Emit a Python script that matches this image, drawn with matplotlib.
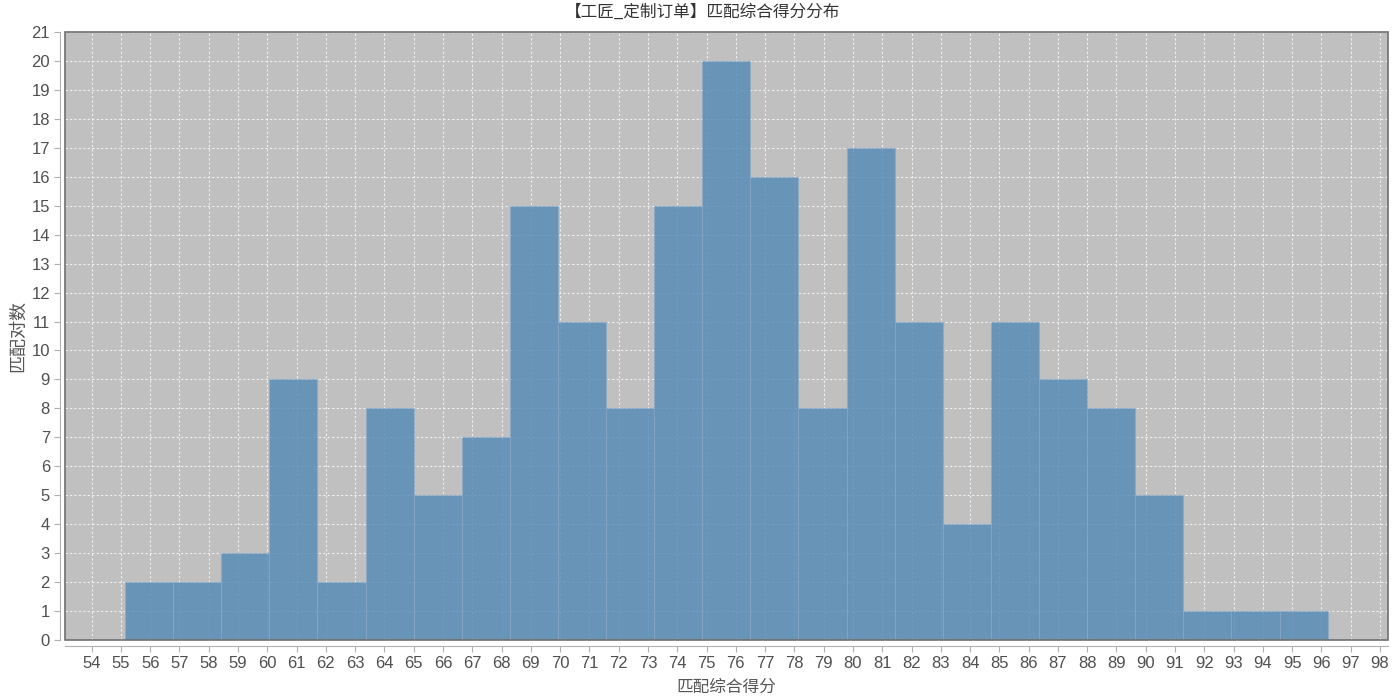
import numpy as np
import matplotlib
matplotlib.use('Agg')
import matplotlib.pyplot as plt
import matplotlib.patches as mpatches

plt.rcParams['font.family'] = ['Liberation Sans', 'Noto Sans CJK SC', 'DejaVu Sans']

# histogram data
score_min = 55.14
score_max = 96.21
counts = [2, 2, 3, 9, 2, 8, 5, 7, 15, 11, 8, 15, 20, 16, 8, 17, 11, 4, 11, 9, 8, 5, 1, 1, 1]
x_ticks = list(range(54, 99))
y_ticks = list(range(0, 22))

title = '【工匠_定制订单】匹配综合得分分布'
x_label = '匹配综合得分'
y_label = '匹配对数'

edges = np.linspace(score_min, score_max, len(counts) + 1)
bin_width = edges[1] - edges[0]

fig = plt.figure(figsize=(14, 7), dpi=100)
ax = fig.add_axes([0.0466, 0.0853, 0.945, 0.8694])
ax.set_facecolor('#C0C0C0')

ax.bar(edges[:-1], counts, width=bin_width, align='edge',
       color=(82/255, 137/255, 183/255, 0.8),
       edgecolor=(140/255, 172/255, 200/255, 0.5), linewidth=0.8, zorder=2)

ax.set_xlim(53.1, 98.28)
ax.set_ylim(0, 21)
ax.set_xticks(x_ticks)
ax.set_yticks(y_ticks)
ax.grid(True, color='#F0F0F0', linestyle=(0, (2, 2)), linewidth=0.8, zorder=1)
ax.set_axisbelow(True)

for side in ['top', 'right']:
    ax.spines[side].set_visible(False)
for side in ['left', 'bottom']:
    ax.spines[side].set_position(('outward', 4))
    ax.spines[side].set_color('#B0B0B0')
ax.tick_params(axis='both', direction='out', length=4, color='#B0B0B0',
               labelsize=12, labelcolor='#505050', pad=3)

# plot border
ax.add_patch(mpatches.Rectangle((0, 0), 1, 1, transform=ax.transAxes, fill=False,
                                edgecolor='#707070', linewidth=1.2, clip_on=False, zorder=5))

cjk = ['Noto Sans CJK SC', 'DejaVu Sans']
fig.text(0.502, 0.983, title, fontsize=12, color='#333333', ha='center', va='center',
         family=cjk)
ax.set_xlabel(x_label, fontsize=12, color='#555555', labelpad=6, family=cjk)
ax.set_ylabel(y_label, fontsize=13, color='#555555', labelpad=3, family=cjk)

fig.savefig('out.png', dpi=100)
